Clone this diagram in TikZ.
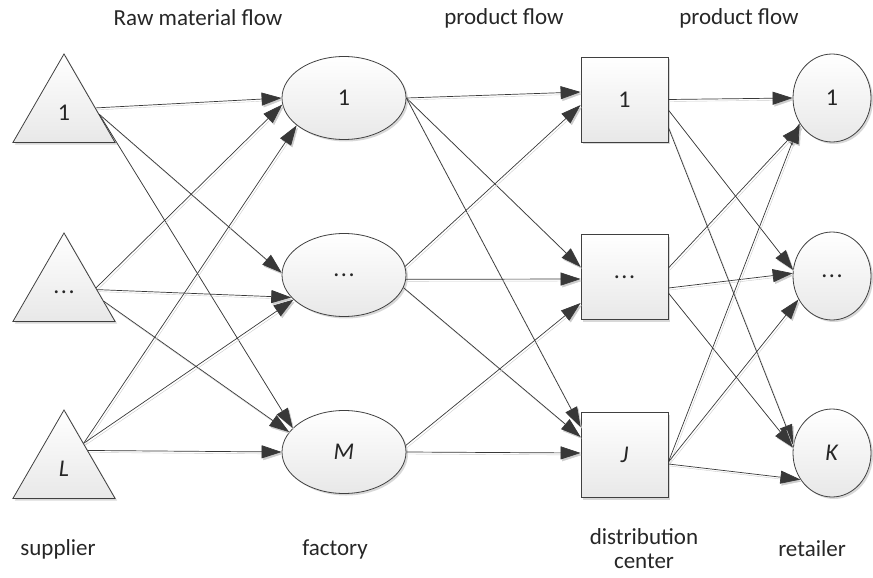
\documentclass[tikz,border=0pt]{standalone}
\usepackage{fontspec}
\setmainfont{Carlito}
\usetikzlibrary{shapes.geometric,arrows.meta,calc,shadows}

\newcommand{\tridots}{.\kern1.5pt.\kern1.5pt.}

\begin{document}
\begin{tikzpicture}[x=1pt,y=-1pt,
    unit/.style={draw=black!75, line width=0.8pt, top color=white, bottom color=black!9,
      drop shadow={shadow xshift=2pt,shadow yshift=-2pt,fill=black!30,opacity=0.5},
      inner sep=0pt, text=black!85, font=\fontsize{24}{28}\selectfont},
    supplier/.style={unit, regular polygon, regular polygon sides=3, minimum size=118pt},
    factory/.style={unit, ellipse, minimum width=124pt, minimum height=83pt},
    dcbox/.style={unit, rectangle, minimum width=87pt, minimum height=85pt},
    retail/.style={unit, ellipse, minimum width=78pt, minimum height=88pt},
    flow/.style={draw=black!78, line width=0.7pt, -{Triangle[length=20pt,width=13pt]},
      preaction={draw=black!20, transform canvas={shift={(1.5pt,-2pt)}}}},
    tag/.style={font=\fontsize{23}{24}\selectfont, text=black!85, align=center}]
  \useasboundingbox (0,0) rectangle (873,578);

  \node[supplier] (t1) at (64,113) {1};
  \node[supplier] (t2) at (64,292) {\tridots};
  \node[supplier] (t3) at (64,469) {\textit{L}};

  \node[factory] (e1) at (344,98) {1};
  \node[factory] (e2) at (344,275) {\tridots};
  \node[factory] (e3) at (344,452) {\textit{M}};

  \node[dcbox] (s1) at (624.5,99.5) {1};
  \node[dcbox] (s2) at (624.5,277) {\tridots};
  \node[dcbox] (s3) at (624.5,455) {\textit{J}};

  \node[retail] (c1) at (832,98) {1};
  \node[retail] (c2) at (832,276) {\tridots};
  \node[retail] (c3) at (832,453) {\textit{K}};

  \draw[flow] ($(t1.corner 1)!0.61!(t1.corner 3)$) -- (e1.180);
  \draw[flow] ($(t1.corner 1)!0.68!(t1.corner 3)$) -- (e2.178);
  \draw[flow] ($(t1.corner 1)!0.68!(t1.corner 3)$) -- (e3.155);
  \draw[flow] ($(t2.corner 1)!0.62!(t2.corner 3)$) -- (e1.186);
  \draw[flow] ($(t2.corner 1)!0.64!(t2.corner 3)$) -- (e2.203);
  \draw[flow] ($(t2.corner 1)!0.77!(t2.corner 3)$) -- (e3.160);
  \draw[flow] ($(t3.corner 1)!0.38!(t3.corner 3)$) -- (e1.210);
  \draw[flow] ($(t3.corner 1)!0.38!(t3.corner 3)$) -- (e2.206);
  \draw[flow] ($(t3.corner 1)!0.46!(t3.corner 3)$) -- (e3.180);

  \draw[flow] (e1.east) -- ([yshift=7.5pt]s1.west);
  \draw[flow] (e1.east) -- ([yshift=10pt]s2.west);
  \draw[flow] (e1.east) -- ([yshift=28pt]s3.west);
  \draw[flow] (e2.8) -- ([yshift=-5.5pt]s1.west);
  \draw[flow] (e2.-4) -- ([yshift=-2pt]s2.west);
  \draw[flow] (e2.-12) -- ([yshift=18pt]s3.west);
  \draw[flow] (e3.6) -- ([yshift=-26pt]s2.west);
  \draw[flow] (e3.east) -- ([yshift=2pt]s3.west);

  \draw[flow] (s1.east) -- (c1.west);
  \draw[flow] ([yshift=-10.5pt]s1.east) -- (c2.171);
  \draw[flow] ([yshift=-28pt]s1.east) -- (c3.168);
  \draw[flow] ([yshift=9pt]s2.east) -- (c1.222);
  \draw[flow] ([yshift=-11pt]s2.east) -- (c2.176);
  \draw[flow] ([yshift=-16pt]s2.east) -- (c3.172);
  \draw[flow] ([yshift=-7pt]s3.east) -- (c1.218);
  \draw[flow] ([yshift=-7pt]s3.east) -- (c2.215);
  \draw[flow] ([yshift=-9pt]s3.east) -- (c3.220);

  \node[tag] (rawflow) at (198,18) {Raw material flow};
  \node[tag] (flowa) at (504,18) {product flow};
  \node[tag] (flowb) at (739,18) {product flow};
  \node[tag] (suplab) at (58,549) {supplier};
  \node[tag] (faclab) at (335,549) {factory};
  \node[tag] (dclab) at (644,549) {distribution\\center};
  \node[tag] (retlab) at (812,549) {retailer};
\end{tikzpicture}
\end{document}
